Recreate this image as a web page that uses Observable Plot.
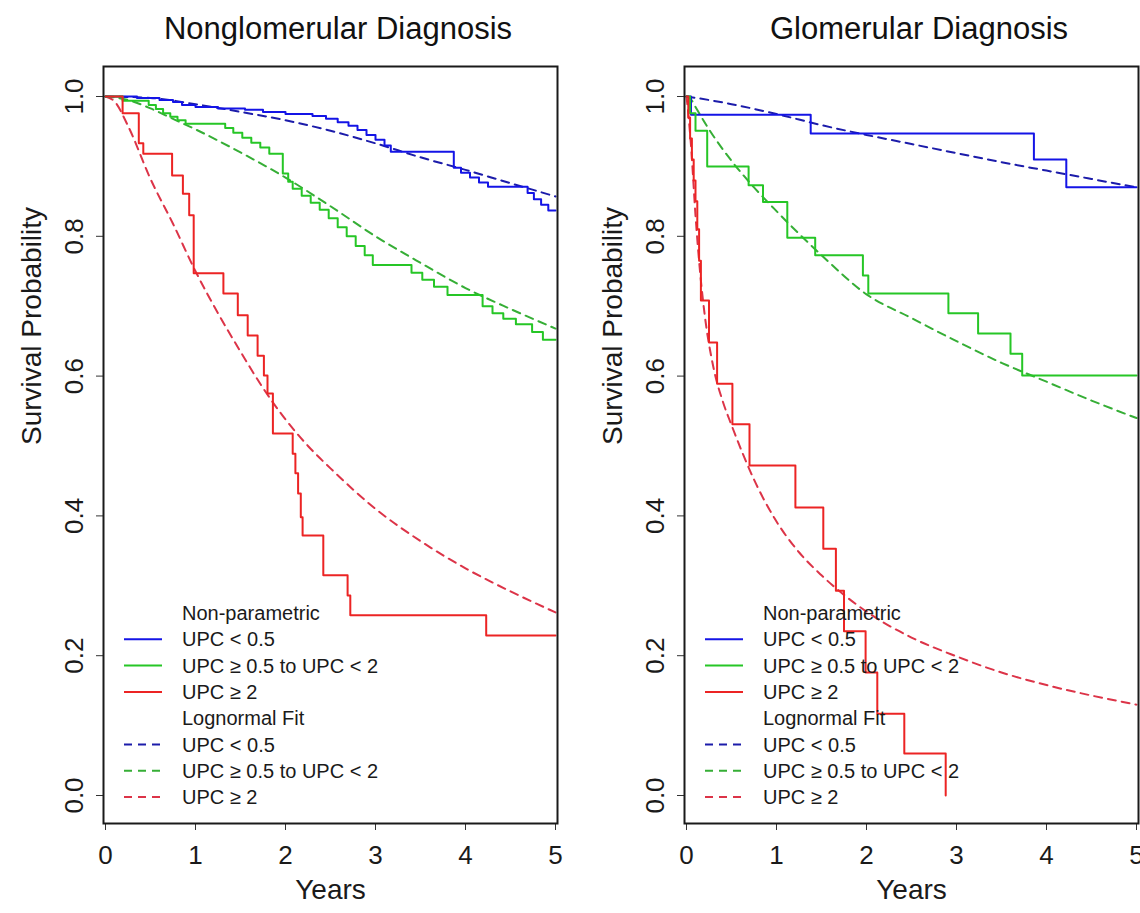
<!DOCTYPE html>
<html><head><meta charset="utf-8">
<script src="https://cdn.jsdelivr.net/npm/d3@7"></script>
<script src="https://cdn.jsdelivr.net/npm/@observablehq/plot@0.6"></script>
<style>
html,body{margin:0;padding:0;background:#fff;}
#wrap{position:relative;width:1140px;height:913px;overflow:hidden;background:#fff;font-family:"Liberation Sans",Arial,sans-serif;color:#111;}
.ttl{position:absolute;top:11px;width:600px;text-align:center;font-size:31px;line-height:36px;}
.panel{position:absolute;top:0;}
</style></head><body>
<div id="wrap">
 <div class="ttl" id="t1"></div>
 <div class="ttl" id="t2"></div>
 <div class="panel" id="p1" style="left:0px"></div>
 <div class="panel" id="p2" style="left:581px"></div>
</div>
<script>
// ---- labels ----
const panelTitles = ["Nonglomerular Diagnosis", "Glomerular Diagnosis"];
const groupLabels = ["UPC < 0.5", "UPC \u2265 0.5 to UPC < 2", "UPC \u2265 2"];
const legendHeads = ["Non-parametric", "Lognormal Fit"];
const xLabel = "Years";
const yLabel = "Survival Probability";
const yearTicks = [0, 1, 2, 3, 4, 5];
const probTicks = [0, 0.2, 0.4, 0.6, 0.8, 1.0];

// ---- Nonglomerular: Kaplan-Meier (step) ----
const ngKmLowT = [0, 0.35, 0.6, 0.75, 0.85, 1.0, 1.25, 1.55, 1.75, 2.0, 2.3, 2.45, 2.58, 2.7, 2.8, 2.9, 3.0, 3.1, 3.17, 3.87, 3.95, 4.05, 4.15, 4.25, 4.69, 4.76, 4.84, 4.92, 5.0];
const ngKmLowS = [1, .998, .995, .992, .988, .985, .983, .981, .978, .975, .972, .968, .963, .958, .952, .945, .938, .930, .921, .898, .891, .884, .877, .871, .862, .853, .845, .837, .837];
const ngKmMidT = [0, 0.19, 0.48, 0.56, 0.64, 0.72, 0.80, 0.89, 1.33, 1.42, 1.52, 1.62, 1.72, 1.82, 1.97, 2.03, 2.08, 2.18, 2.28, 2.38, 2.48, 2.58, 2.68, 2.78, 2.88, 2.97, 3.40, 3.52, 3.65, 3.80, 4.19, 4.30, 4.42, 4.56, 4.74, 4.86, 5.0];
const ngKmMidS = [1, .994, .988, .982, .976, .971, .966, .961, .955, .948, .941, .934, .927, .918, .890, .878, .868, .858, .848, .838, .826, .813, .800, .786, .773, .759, .748, .738, .728, .716, .700, .690, .682, .674, .663, .652, .652];
const ngKmHighT = [0, 0.19, 0.37, 0.42, 0.74, 0.86, 0.93, 0.98, 1.31, 1.47, 1.58, 1.69, 1.76, 1.80, 1.86, 2.08, 2.11, 2.14, 2.17, 2.19, 2.42, 2.69, 2.72, 4.23, 5.0];
const ngKmHighS = [1, .976, .933, .918, .887, .861, .830, .747, .718, .687, .658, .629, .601, .575, .518, .489, .461, .432, .398, .372, .315, .286, .258, .229, .229];

// ---- Nonglomerular: lognormal fits ----
const ngFitLowT = [0, 0.5, 1, 1.5, 2, 2.5, 3, 3.5, 4, 4.5, 5];
const ngFitLowS = [1, .998, .989, .978, .966, .951, .933, .913, .895, .876, .857];
const ngFitMidT = [0, 0.25, 0.5, 0.75, 1, 1.5, 2, 2.5, 3, 3.5, 4, 4.5, 5];
const ngFitMidS = [1, .995, .983, .968, .953, .920, .884, .843, .800, .762, .726, .696, .668];
const ngFitHighT = [0, 0.1, 0.25, 0.5, 0.75, 1, 1.25, 1.5, 1.75, 2, 2.25, 2.5, 3, 3.5, 4, 4.5, 5];
const ngFitHighS = [1, .993, .958, .882, .818, .750, .690, .635, .583, .538, .500, .468, .410, .364, .325, .292, .262];

// ---- Glomerular: Kaplan-Meier (step) ----
const glKmLowT = [0, 0.05, 1.38, 3.86, 4.22, 5.0];
const glKmLowS = [1, .974, .947, .910, .870, .870];
const glKmMidT = [0, 0.04, 0.10, 0.23, 0.69, 0.85, 1.12, 1.43, 1.96, 2.02, 2.91, 3.24, 3.60, 3.73, 5.0];
const glKmMidS = [1, .976, .951, .900, .873, .849, .798, .773, .744, .718, .690, .661, .632, .601, .601];
const glKmHighT = [0, 0.02, 0.04, 0.06, 0.08, 0.10, 0.12, 0.14, 0.16, 0.25, 0.34, 0.51, 0.70, 1.21, 1.52, 1.66, 1.75, 1.99, 2.12, 2.42, 2.88];
const glKmHighS = [1, .97, .94, .91, .88, .85, .81, .765, .708, .648, .589, .531, .472, .412, .353, .293, .235, .176, .117, .060, 0];

// ---- Glomerular: lognormal fits ----
const glFitLowT = [0, 0.25, 0.5, 1, 1.5, 2, 2.5, 3, 3.5, 4, 4.5, 5];
const glFitLowS = [1, .995, .989, .975, .959, .945, .932, .919, .906, .894, .882, .870];
const glFitMidT = [0, 0.05, 0.1, 0.25, 0.5, 0.75, 1, 1.5, 2, 2.5, 3, 3.5, 4, 4.5, 5];
const glFitMidS = [1, .996, .985, .953, .908, .870, .836, .773, .717, .683, .650, .619, .592, .565, .540];
const glFitHighT = [0, 0.02, 0.05, 0.1, 0.15, 0.2, 0.3, 0.4, 0.5, 0.75, 1, 1.25, 1.5, 1.75, 2, 2.5, 3, 3.5, 4, 4.5, 5];
const glFitHighS = [1, .975, .93, .83, .75, .69, .612, .565, .530, .452, .392, .348, .315, .287, .263, .226, .199, .176, .158, .143, .130];

// ---- styling ----
const solidColors = ["#1414e6", "#26c626", "#ec2424"];
const dashColors = ["#1c1caa", "#36ae36", "#dc3448"];

const zip = (T, S) => T.map((t, i) => ({t, s: S[i]}));
const panels = [
  {title: panelTitles[0],
   km: [zip(ngKmLowT, ngKmLowS), zip(ngKmMidT, ngKmMidS), zip(ngKmHighT, ngKmHighS)],
   fit: [zip(ngFitLowT, ngFitLowS), zip(ngFitMidT, ngFitMidS), zip(ngFitHighT, ngFitHighS)]},
  {title: panelTitles[1],
   km: [zip(glKmLowT, glKmLowS), zip(glKmMidT, glKmMidS), zip(glKmHighT, glKmHighS)],
   fit: [zip(glFitLowT, glFitLowS), zip(glFitMidT, glFitMidS), zip(glFitHighT, glFitHighS)]}
];

const H = 913;
const FR = {top: 66, bottom: 90, left: 103};
const FONT = '"Liberation Sans", Arial, sans-serif';

function makePanel(p, width, marginRight) {
  const marks = [
    Plot.axisX({ticks: yearTicks, tickSize: 7, tickPadding: 15, fontSize: 26, label: null, tickFormat: d3.format("d"), stroke: "#333"}),
    Plot.axisY({ticks: probTicks, tickSize: 7, tickPadding: 14, tickRotate: -90, fontSize: 26, label: null, tickFormat: d3.format(".1f"), stroke: "#333"}),
    Plot.text([xLabel], {text: d => d, frameAnchor: "bottom", dy: 75, fontSize: 28, fill: "#1a1a1a"}),
    Plot.text([yLabel], {text: d => d, frameAnchor: "left", dx: -71, rotate: -90, fontSize: 28, fill: "#1a1a1a"})
  ];
  p.fit.forEach((rows, i) => marks.push(Plot.line(rows, {x: "t", y: "s", curve: "monotone-x", stroke: dashColors[i], strokeWidth: 2, strokeDasharray: "8,6", clip: true})));
  p.km.forEach((rows, i) => marks.push(Plot.line(rows, {x: "t", y: "s", curve: "step-after", stroke: solidColors[i], strokeWidth: 2, clip: true})));
  marks.push(Plot.frame({stroke: "#1a1a1a", strokeWidth: 2}));

  const svg = Plot.plot({
    width, height: H,
    marginTop: FR.top, marginBottom: FR.bottom, marginLeft: FR.left, marginRight,
    style: {fontFamily: FONT, background: "transparent", color: "#1a1a1a", overflow: "visible"},
    x: {domain: [0, 5], insetLeft: 2, insetRight: 2},
    y: {domain: [0, 1], insetTop: 30, insetBottom: 28},
    marks
  });

  // legend (R-style, no box), anchored to the bottom-left of the frame
  const rows = [{label: legendHeads[0]}]
    .concat(groupLabels.map((g, i) => ({label: g, color: solidColors[i], dash: null})))
    .concat([{label: legendHeads[1]}])
    .concat(groupLabels.map((g, i) => ({label: g, color: dashColors[i], dash: "8,6"})));
  const lg = d3.select(svg).append("g")
    .attr("font-family", FONT).attr("font-size", 20).attr("fill", "#1a1a1a").attr("text-anchor", "start");
  const y0 = H - FR.bottom - 210;
  rows.forEach((r, i) => {
    const y = y0 + i * 26.3;
    if (r.color) {
      lg.append("line").attr("x1", FR.left + 21).attr("x2", FR.left + 59).attr("y1", y).attr("y2", y)
        .attr("stroke", r.color).attr("stroke-width", 2).attr("stroke-dasharray", r.dash);
    }
    lg.append("text").attr("x", FR.left + 79).attr("y", y).attr("dy", "0.35em")
      .attr("text-anchor", "start").text(r.label);
  });
  return svg;
}

document.getElementById("p1").appendChild(makePanel(panels[0], 570, 13));
document.getElementById("p2").appendChild(makePanel(panels[1], 559, 2));
const t1 = document.getElementById("t1"); t1.textContent = panels[0].title; t1.style.left = (338 - 300) + "px";
const t2 = document.getElementById("t2"); t2.textContent = panels[1].title; t2.style.left = (919 - 300) + "px";
</script>
</body></html>
